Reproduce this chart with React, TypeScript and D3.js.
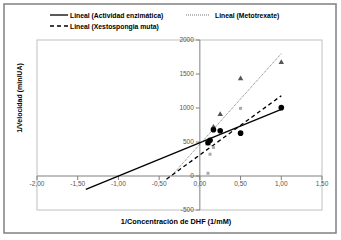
import React from "react";
import * as d3 from "d3";

const xTicks = [-2, -1.5, -1, -0.5, 0, 0.5, 1, 1.5];
const yTicks = [-500, 0, 500, 1000, 1500, 2000];

const actX = [0.1, 0.125, 0.167, 0.25, 0.5, 1.0];
const actY = [490, 525, 680, 665, 630, 1005];

const metX = [0.1, 0.167, 0.167, 0.25, 0.5, 1.0];
const metY = [475, 695, 720, 905, 1430, 1670];

const xesX = [0.1, 0.125, 0.167, 0.5, 1.0];
const xesY = [40, 320, 420, 995, 1010];

const trendNames = ["Lineal (Actividad enzimática)", "Lineal (Metotrexate)", "Lineal (Xestospongia muta)"];
const trendStart = [-1.4, -0.35, -0.41];
const trendEnd = [1.0, 1.0, 1.0];
const trendSlope = [490, 1333, 870];
const trendIntercept = [490, 467, 310];

const W = 341, H = 240;
const PL = 37, PR = 322, PT = 40, PB = 210;

export default function App() {
  const x = d3.scaleLinear().domain([-2, 1.5]).range([PL, PR]);
  const y = d3.scaleLinear().domain([-500, 2000]).range([PB, PT]);
  const fmt = (v: number) => v.toFixed(2).replace(".", ",");
  const line = d3.line<[number, number]>().x(d => x(d[0])).y(d => y(d[1]));
  const trendStyles = [
    { stroke: "#000", width: 1.3, dash: "" },
    { stroke: "#555", width: 0.8, dash: "1,1" },
    { stroke: "#000", width: 1.3, dash: "4,3" },
  ];
  const tri = d3.symbol().type(d3.symbolTriangle).size(13)() as string;
  const font = "'Liberation Sans', Arial, sans-serif";
  const x0 = x(0), y0 = y(0);
  return (
    <svg width={W} height={H} style={{ position: "absolute", left: 0, top: 0, background: "#fff" }} fontFamily={font}>
      <rect x={4} y={4} width={332} height={229} fill="#fff" stroke="#808080" strokeWidth={1.5} />
      <rect x={PL} y={PT} width={PR - PL} height={PB - PT} fill="none" stroke="#c0c0c0" strokeWidth={1} />
      <line x1={PL} x2={PR} y1={y0} y2={y0} stroke="#808080" strokeWidth={1} />
      <line x1={x0} x2={x0} y1={PT} y2={PB} stroke="#808080" strokeWidth={1} />
      {xTicks.map((t, i) => (
        <g key={"xt" + i}>
          <line x1={x(t)} x2={x(t)} y1={y0} y2={y0 + 4} stroke="#808080" />
          <text x={x(t)} y={y0 + 10} fontSize={6.5} fill="#555" textAnchor="middle">{fmt(t)}</text>
        </g>
      ))}
      {yTicks.map((t, i) => (
        <g key={"yt" + i}>
          <line x1={x0 - 4} x2={x0} y1={y(t)} y2={y(t)} stroke="#808080" />
          <text x={x0 - 6} y={y(t) + 2.3} fontSize={6.5} fill="#555" textAnchor="end">{t}</text>
        </g>
      ))}
      {trendNames.map((n, i) => (
        <path key={"tr" + i}
          d={line([[trendStart[i], trendIntercept[i] + trendSlope[i] * trendStart[i]], [trendEnd[i], trendIntercept[i] + trendSlope[i] * trendEnd[i]]]) as string}
          fill="none" stroke={trendStyles[i].stroke} strokeWidth={trendStyles[i].width} strokeDasharray={trendStyles[i].dash} />
      ))}
      {xesX.map((v, i) => (
        <rect key={"xs" + i} x={x(v) - 1.5} y={y(xesY[i]) - 1.5} width={3} height={3} fill="#aaa" />
      ))}
      {metX.map((v, i) => (
        <path key={"mt" + i} d={tri} transform={`translate(${x(v)},${y(metY[i])})`} fill="#555" />
      ))}
      {actX.map((v, i) => (
        <circle key={"ac" + i} cx={x(v)} cy={y(actY[i])} r={2.8} fill="#000" />
      ))}
      <line x1={50} x2={68} y1={15} y2={15} stroke="#000" strokeWidth={1.3} />
      <text x={70} y={17.5} fontSize={6.8} fontWeight="bold" fill="#000">{trendNames[0]}</text>
      <line x1={186} x2={210} y1={15} y2={15} stroke="#555" strokeWidth={0.8} strokeDasharray="1,1" />
      <text x={215} y={17.5} fontSize={6.8} fontWeight="bold" fill="#000">{trendNames[1]}</text>
      <line x1={50} x2={68} y1={26} y2={26} stroke="#000" strokeWidth={1.3} strokeDasharray="4,3" />
      <text x={70} y={28.5} fontSize={6.8} fontWeight="bold" fill="#000">{trendNames[2]}</text>
      <text x={176} y={224} fontSize={7.3} fontWeight="bold" textAnchor="middle" fill="#000">1/Concentración de DHF (1/mM)</text>
      <text transform="translate(22,98) rotate(-90)" fontSize={7} fontWeight="bold" textAnchor="middle" fill="#000">1/Velocidad (min/UA)</text>
    </svg>
  );
}
